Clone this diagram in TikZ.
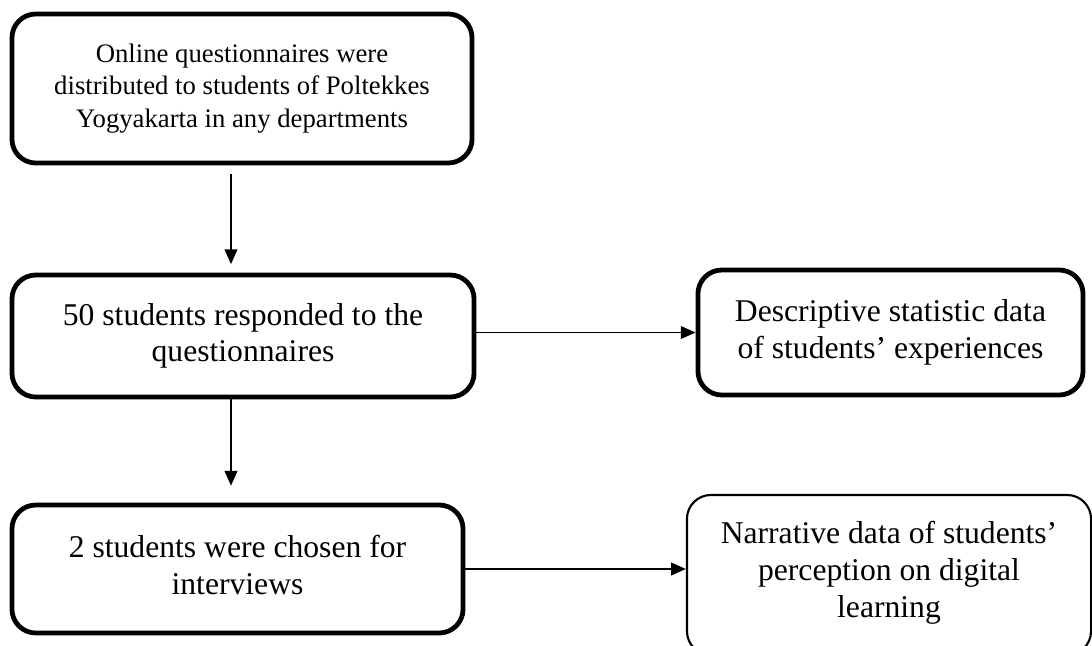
\documentclass[tikz,border=0pt]{standalone}
\usepackage{fontspec}
\setmainfont{Liberation Serif}
\usetikzlibrary{arrows.meta,positioning,calc}

\begin{document}
\begin{tikzpicture}[
    x=0.025cm, y=-0.025cm,
    % global styles
    box/.style={draw, line width=3.4pt, rectangle, rounded corners=17pt, align=center,
                font=\fontsize{22.5}{26}\selectfont, inner sep=0pt},
    small box/.style={box, font=\fontsize{19}{23}\selectfont}, % first box has smaller text
    thin box/.style={box, line width=1.5pt}, % last box has a thin border
    flow/.style={line width=1.3pt, -{Triangle[length=10.5pt, width=9pt]}}
]
    % fix the page size and cut off what runs past it
    \useasboundingbox (0,0) rectangle (1092,645);
    \clip (0,0) rectangle (1092,645);

    % --- 1. left column ---
    \node[small box, minimum width=11.5cm, minimum height=3.725cm] (survey) at (242,88.5)
        {Online questionnaires were\\distributed to students of Poltekkes\\Yogyakarta in any departments};
    \node[box, minimum width=11.55cm, minimum height=3.05cm] (respond) at (243,336)
        {50 students responded to the\\questionnaires};
    \node[box, minimum width=11.275cm, minimum height=3.2cm] (interview) at (237.5,569)
        {2 students were chosen for\\interviews\\[-20pt]};

    % --- 2. right column ---
    \node[box, minimum width=9.625cm, minimum height=3.125cm] (stats) at (890.5,332.5)
        {Descriptive statistic data\\of students’ experiences};
    \node[thin box, minimum width=10.1cm, minimum height=4cm] (narrative) at (889,575)
        {Narrative data of students’\\perception on digital\\learning\\[-18pt]};

    % --- 3. arrows ---
    \coordinate (axis) at (231,0); % the vertical arrows sit left of the box centres
    \draw[flow, shorten <=6.4pt, shorten >=6pt] (survey.south -| axis) -- (respond.north -| axis);
    \draw[flow, shorten >=12pt] (respond.south -| axis) -- (interview.north -| axis);
    \draw[flow] (respond.east |- stats.west) -- (stats.west);
    \draw[flow] (interview.east) -- (interview.east -| narrative.west);

\end{tikzpicture}
\end{document}
